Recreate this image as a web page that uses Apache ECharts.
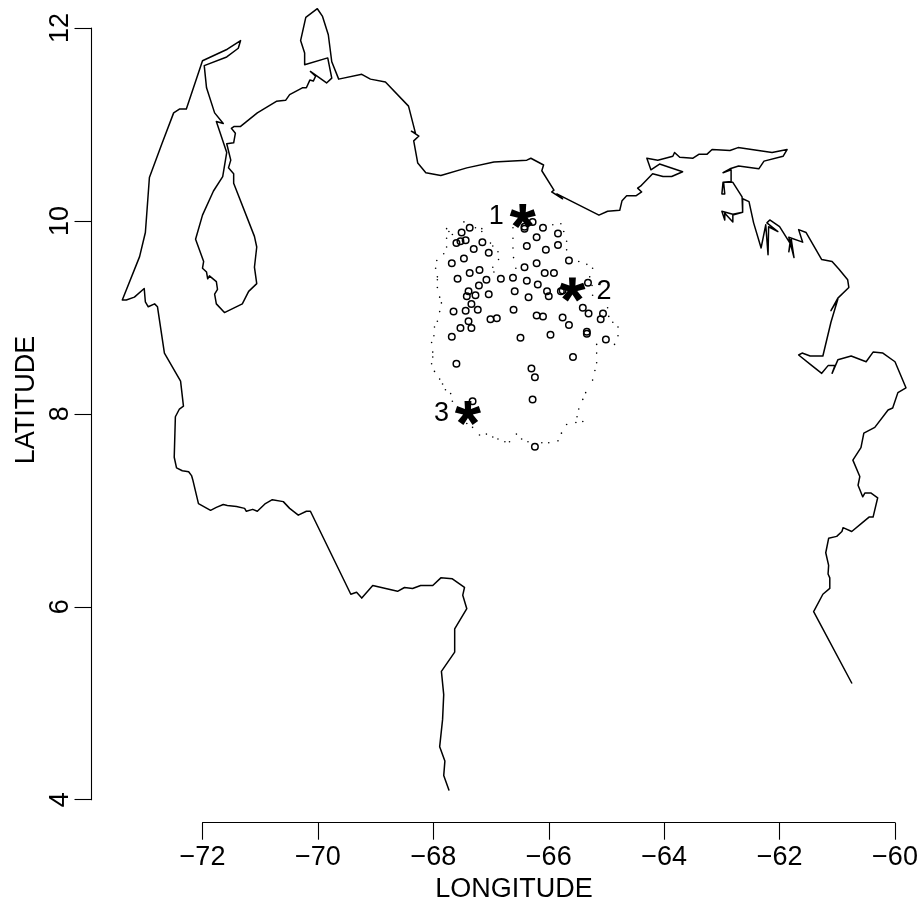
<!DOCTYPE html>
<html>
<head>
<meta charset="utf-8">
<style>html,body{margin:0;padding:0;background:#fff}#c{width:921px;height:907px}</style>
<script src="https://cdn.jsdelivr.net/npm/echarts@6/dist/echarts.min.js"></script>
</head>
<body>
<div id="c"></div>
<script>
const lonTicks = [-72,-70,-68,-66,-64,-62,-60];
const lonTickLabels = ['\u221272','\u221270','\u221268','\u221266','\u221264','\u221262','\u221260'];
const latTicks = [4,6,8,10,12];
const latTickLabels = ['4','6','8','10','12'];
const xTitle = 'LONGITUDE';
const yTitle = 'LATITUDE';

const boundary = [
[-67.73,4.10],[-67.82,4.25],[-67.80,4.40],[-67.89,4.55],[-67.84,4.83],[-67.82,5.09],[-67.86,5.33],[-67.63,5.53],[-67.63,5.77],[-67.42,5.98],
[-67.49,6.12],[-67.46,6.20],[-67.67,6.29],[-67.87,6.30],[-68.01,6.22],[-68.22,6.22],[-68.36,6.19],[-68.50,6.20],[-68.62,6.16],[-69.05,6.22],
[-69.24,6.09],[-69.33,6.15],[-69.43,6.13],[-70.13,6.99],[-70.20,6.99],[-70.34,6.95],[-70.49,7.02],[-70.60,7.09],[-70.79,7.11],[-70.91,7.07],
[-71.05,6.99],[-71.13,7.01],[-71.24,6.99],[-71.27,7.02],[-71.41,7.04],[-71.57,7.05],[-71.64,7.06],[-71.76,7.03],[-71.86,7.00],[-72.07,7.07],
[-72.17,7.32],[-72.19,7.36],[-72.24,7.40],[-72.35,7.41],[-72.45,7.44],[-72.49,7.55],[-72.47,7.97],[-72.40,8.05],[-72.33,8.08],[-72.38,8.34],
[-72.66,8.63],[-72.78,9.11],[-72.83,9.14],[-72.94,9.11],[-72.99,9.16],[-73.01,9.30],[-73.18,9.21],[-73.32,9.18],[-73.39,9.18],[-73.09,9.63],
[-72.99,9.88],[-72.97,10.04],[-72.92,10.45],[-72.71,10.79],[-72.50,11.12],[-72.40,11.16],[-72.28,11.16],[-72.00,11.66],[-71.57,11.78],[-71.34,11.87],
[-71.38,11.79],[-71.58,11.70],[-71.97,11.61],[-71.93,11.38],[-71.79,11.12],[-71.64,11.01],[-71.76,11.03],[-71.58,10.71],[-71.65,10.46],[-71.81,10.31],
[-72.00,10.06],[-72.12,9.81],[-71.98,9.58],[-72.00,9.51],[-72.03,9.50],[-71.93,9.47],[-71.91,9.40],[-71.88,9.43],[-71.76,9.37],[-71.74,9.29],
[-71.79,9.24],[-71.76,9.14],[-71.62,9.05],[-71.31,9.14],[-71.20,9.27],[-71.06,9.35],[-71.10,9.52],[-71.06,9.73],[-71.10,9.84],[-71.46,10.39],
[-71.46,10.49],[-71.55,10.55],[-71.51,10.63],[-71.58,10.80],[-71.46,10.81],[-71.43,10.91],[-71.50,10.96],[-71.45,10.98],[-71.34,10.98],[-71.05,11.12],
[-70.72,11.24],[-70.56,11.25],[-70.49,11.31],[-70.27,11.38],[-70.20,11.38],[-70.14,11.46],[-70.08,11.45],[-70.04,11.50],[-70.13,11.55],[-69.85,11.43],
[-69.76,11.48],[-69.83,11.69],[-70.23,11.62],[-70.23,11.74],[-70.30,11.87],[-70.21,12.11],[-70.01,12.20],[-69.92,12.12],[-69.82,11.93],[-69.76,11.65],
[-69.64,11.47],[-69.61,11.48],[-69.24,11.52],[-69.09,11.47],[-68.83,11.44],[-68.43,11.19],[-68.31,10.91],[-68.38,10.93],[-68.25,10.88],[-68.34,10.83],
[-68.27,10.60],[-68.13,10.50],[-67.87,10.47],[-67.42,10.55],[-66.95,10.61],[-66.38,10.63],[-66.31,10.65],[-66.09,10.58],[-66.12,10.52],[-65.91,10.32],
[-65.95,10.30],[-65.76,10.23],[-65.86,10.28],[-65.13,10.06],[-64.98,10.10],[-64.77,10.11],[-64.73,10.21],[-64.65,10.26],[-64.49,10.26],[-64.39,10.30],
[-64.46,10.34],[-64.41,10.36],[-64.20,10.49],[-64.02,10.46],[-63.87,10.46],[-63.68,10.51],[-64.08,10.59],[-64.23,10.53],[-64.30,10.65],[-64.11,10.63],
[-63.85,10.67],[-63.82,10.71],[-63.73,10.66],[-63.50,10.65],[-63.40,10.69],[-63.26,10.69],[-63.17,10.74],[-62.86,10.73],[-62.72,10.76],[-62.13,10.71],
[-61.87,10.74],[-61.94,10.67],[-62.27,10.62],[-62.36,10.54],[-62.71,10.57],[-62.86,10.54],[-62.98,10.50],[-62.84,10.53],[-62.84,10.41],[-62.98,10.40],
[-63.00,10.28],[-62.95,10.28],[-62.97,10.40],[-62.81,10.40],[-62.65,10.25],[-62.64,10.09],[-62.81,10.07],[-63.00,10.10],[-62.95,10.01],[-62.95,10.08],
[-62.81,9.99],[-62.81,10.06],[-62.64,10.09],[-62.64,10.23],[-62.53,10.20],[-62.45,9.98],[-62.32,9.72],[-62.24,9.96],[-62.20,9.65],[-62.19,9.94],
[-62.03,9.89],[-62.22,9.98],[-62.17,10.01],[-62.00,9.94],[-61.82,9.77],[-61.84,9.68],[-61.80,9.82],[-61.75,9.62],[-61.84,9.83],[-61.60,9.78],
[-61.67,9.91],[-61.54,9.88],[-61.27,9.60],[-61.09,9.58],[-60.97,9.50],[-60.82,9.39],[-60.80,9.31],[-60.99,9.20],[-61.11,9.07],[-60.99,9.19],
[-61.11,8.95],[-61.25,8.60],[-61.47,8.60],[-61.61,8.63],[-61.67,8.61],[-61.44,8.50],[-61.27,8.42],[-61.16,8.50],[-61.04,8.50],[-61.09,8.42],
[-60.99,8.56],[-60.76,8.60],[-60.50,8.54],[-60.38,8.64],[-60.21,8.63],[-60.00,8.54],[-59.81,8.27],[-59.95,8.22],[-60.04,8.06],[-60.12,8.04],
[-60.35,7.86],[-60.54,7.80],[-60.59,7.65],[-60.73,7.52],[-60.61,7.35],[-60.64,7.26],[-60.56,7.14],[-60.52,7.18],[-60.42,7.18],[-60.30,7.13],
[-60.38,6.93],[-60.45,6.93],[-60.57,6.87],[-60.75,6.78],[-60.90,6.82],[-60.92,6.78],[-61.01,6.73],[-61.15,6.71],[-61.20,6.56],[-61.15,6.43],
[-61.16,6.34],[-61.13,6.30],[-61.13,6.19],[-61.25,6.13],[-61.41,5.95],[-60.75,5.21]
];

const stations = [
[-67.37,9.93],[-67.51,9.88],[-67.44,9.80],[-67.53,9.79],[-67.60,9.77],[-67.15,9.78],[-67.30,9.71],[-67.04,9.67],[-67.47,9.61],[-67.68,9.56],
[-67.20,9.49],[-67.37,9.46],[-67.58,9.40],[-67.08,9.39],[-66.83,9.40],[-66.62,9.41],[-66.38,9.38],[-66.42,9.52],[-66.38,9.74],[-67.21,9.33],
[-66.59,9.27],[-66.35,9.21],[-67.39,9.27],[-67.42,9.22],[-67.27,9.23],[-67.04,9.24],[-67.34,9.14],[-67.65,9.06],[-67.44,9.07],[-67.23,9.08],
[-66.61,9.08],[-67.01,8.98],[-66.90,8.99],[-67.39,8.96],[-66.28,9.99],[-66.42,9.94],[-66.42,9.92],[-66.10,9.93],[-66.21,9.83],[-65.84,9.87],
[-65.84,9.75],[-66.05,9.70],[-65.65,9.59],[-66.21,9.56],[-66.07,9.46],[-65.91,9.46],[-66.19,9.34],[-66.03,9.27],[-66.00,9.22],[-65.79,9.27],
[-65.76,9.28],[-65.32,9.36],[-65.41,9.10],[-65.31,9.04],[-65.06,9.04],[-65.10,8.98],[-66.21,9.02],[-66.10,9.01],[-65.76,9.00],[-65.65,8.92],
[-65.34,8.85],[-65.34,8.83],[-65.01,8.77],[-65.97,8.82],[-66.49,8.79],[-67.68,8.80],[-67.53,8.89],[-67.34,8.89],[-65.58,8.59],[-67.60,8.52],
[-66.30,8.47],[-66.24,8.38],[-66.28,8.15],[-67.32,8.13],[-66.24,7.66]
];

const outlineDots = [
[-67.47,9.99],[-67.77,9.92],[-67.73,9.89],[-67.67,9.86],[-67.77,9.82],[-67.77,9.73],[-67.82,9.66],[-67.94,9.59],[-67.96,9.51],[-67.93,9.42],
[-67.93,9.39],[-67.93,9.31],[-67.89,9.21],[-67.86,9.15],[-67.89,9.06],[-67.93,8.96],[-67.98,8.90],[-67.99,8.81],[-68.03,8.74],[-68.01,8.64],
[-68.01,8.59],[-68.03,8.52],[-67.98,8.44],[-67.89,8.36],[-67.84,8.31],[-67.79,8.25],[-67.70,8.21],[-67.67,8.13],[-67.42,7.90],[-67.32,7.86],
[-67.20,7.78],[-67.08,7.79],[-66.97,7.76],[-66.88,7.74],[-66.76,7.71],[-66.68,7.71],[-66.56,7.79],[-66.47,7.74],[-66.36,7.71],[-66.12,7.70],
[-66.00,7.70],[-65.84,7.72],[-65.78,7.80],[-65.69,7.89],[-65.53,7.91],[-65.51,7.97],[-65.41,7.92],[-65.48,8.05],[-65.41,8.15],[-65.36,8.22],
[-65.24,8.35],[-65.20,8.45],[-65.17,8.53],[-65.17,8.63],[-65.17,8.72],[-64.86,8.72],[-64.80,8.81],[-64.80,8.90],[-64.89,8.95],[-64.96,9.01],
[-64.98,9.10],[-65.24,9.23],[-65.25,9.33],[-65.29,9.42],[-65.24,9.51],[-65.34,9.55],[-65.48,9.58],[-65.69,9.70],[-65.69,9.79],[-65.74,9.89],
[-65.79,9.97],[-65.93,9.96],[-67.27,9.93],[-67.16,9.92],[-67.16,9.89],[-67.01,9.77],[-66.97,9.74],[-66.88,9.68],[-66.87,9.60],[-66.97,9.52],
[-66.95,9.47],[-66.62,9.93],[-66.62,9.82],[-66.62,9.72],[-66.61,9.62],[-66.57,9.51]
];

const sites = [[-66.45,10.05],[-65.59,9.29],[-67.40,8.01]];
const siteNames = ['1','2','3'];

const FONT = '"Liberation Sans", Arial, Helvetica, sans-serif';
const FS = 27;
const labelNudge = [[0,0],[0,2],[0,1]];

function starPath(){
  const R=13, w=3.1, k=1.15, r=w/Math.sin(Math.PI/5);
  const out=[];
  for(let i=0;i<5;i++){
    const a=-Math.PI/2+i*2*Math.PI/5, ca=Math.cos(a), sa=Math.sin(a);
    out.push([R*ca+w*k*sa,R*sa-w*k*ca]);
    out.push([R*ca-w*k*sa,R*sa+w*k*ca]);
    const b=a+Math.PI/5;
    out.push([r*Math.cos(b),r*Math.sin(b)]);
  }
  return 'path://M'+out.map(p=>p[0].toFixed(2)+' '+p[1].toFixed(2)).join('L')+'Z';
}

const pxLon = 692.5/12, pxLat = 771.7/8;
const chart = echarts.init(document.getElementById('c'),null,{renderer:'canvas'});
chart.setOption({
  animation:false,
  backgroundColor:'#fff',
  grid:[
    {left:202.5,top:28,width:692.5,height:771.7,containLabel:false,outerBoundsMode:'none'},
    {left:202.5-1.5*pxLon,top:28-0.25*pxLat,width:14*pxLon,height:8.25*pxLat,containLabel:false,outerBoundsMode:'none'}
  ],
  xAxis:[
    {type:'value',gridIndex:0,min:-72,max:-60,interval:2,position:'bottom',offset:23,
     splitLine:{show:false},
     axisLine:{show:true,onZero:false,lineStyle:{color:'#000',width:1.1}},
     axisTick:{show:true,length:17,lineStyle:{color:'#000',width:1.1}},
     axisLabel:{margin:21,fontFamily:FONT,fontSize:FS,color:'#000',showMinLabel:true,showMaxLabel:true,hideOverlap:false,
       formatter:v=>lonTickLabels[lonTicks.indexOf(v)]}},
    {type:'value',gridIndex:1,min:-73.5,max:-59.5,show:false}
  ],
  yAxis:[
    {type:'value',gridIndex:0,min:4,max:12,interval:2,position:'left',offset:111,
     splitLine:{show:false},
     axisLine:{show:true,onZero:false,lineStyle:{color:'#000',width:1.1}},
     axisTick:{show:true,length:17,lineStyle:{color:'#000',width:1.1}},
     axisLabel:{rotate:90,margin:17,fontFamily:FONT,fontSize:FS,color:'#000',showMinLabel:true,showMaxLabel:true,hideOverlap:false,
       formatter:v=>latTickLabels[latTicks.indexOf(v)]}},
    {type:'value',gridIndex:1,min:4,max:12.25,show:false}
  ],
  graphic:[
    {type:'text',x:514,y:890,silent:true,style:{text:xTitle,font:FS+'px '+FONT,fill:'#000',textAlign:'center',textVerticalAlign:'middle'}},
    {type:'text',x:27,y:400,rotation:Math.PI/2,silent:true,style:{text:yTitle,font:FS+'px '+FONT,fill:'#000',textAlign:'center',textVerticalAlign:'middle'}}
  ],
  series:[
    {type:'line',xAxisIndex:1,yAxisIndex:1,data:boundary,clip:false,symbol:'none',showSymbol:false,silent:true,
      lineStyle:{color:'#000',width:1.5,join:'round',cap:'round'}},
    {type:'scatter',xAxisIndex:1,yAxisIndex:1,data:outlineDots,clip:false,symbol:'circle',symbolSize:1.6,silent:true,
      itemStyle:{color:'#000',opacity:1}},
    {type:'scatter',xAxisIndex:1,yAxisIndex:1,data:stations,clip:false,symbol:'circle',symbolSize:6.5,silent:true,
      itemStyle:{color:'rgba(0,0,0,0)',borderColor:'#000',borderWidth:1.5,opacity:1}},
    {type:'scatter',xAxisIndex:1,yAxisIndex:1,clip:false,symbol:starPath(),symbolSize:[26,24],silent:true,
      itemStyle:{color:'#000',opacity:1},
      data:sites.map((p,i)=>({value:p,name:siteNames[i],
        label:{show:true,formatter:'{b}',position:i===1?'right':'left',distance:i===1?11:6,offset:labelNudge[i],
          fontFamily:FONT,fontSize:FS,color:'#000',opacity:1}}))}
  ]
});
</script>
</body>
</html>
